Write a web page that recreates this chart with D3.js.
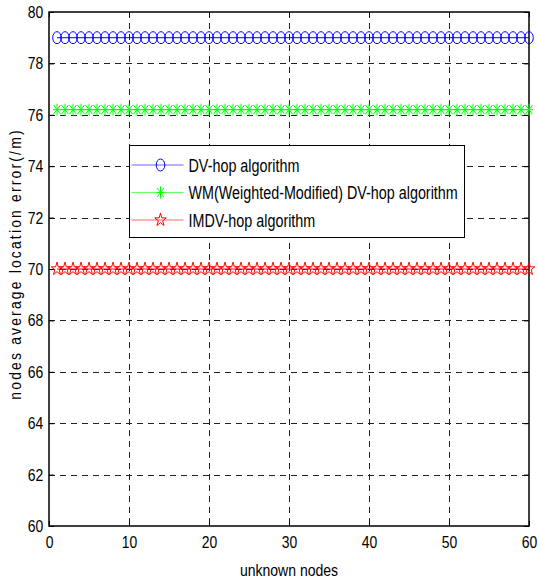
<!DOCTYPE html>
<html>
<head>
<meta charset="utf-8">
<script src="https://cdn.jsdelivr.net/npm/d3@7"></script>
<style>
body { margin: 0; background: #fff; }
svg { display: block; }
text { font-family: "Liberation Sans", Arial, Helvetica, sans-serif; fill: #000; }
</style>
</head>
<body>
<svg id="chart"></svg>
<script>
// unknown node index (x) and average error of each algorithm
var nodes = [1,2,3,4,5,6,7,8,9,10,11,12,13,14,15,16,17,18,19,20,
	21,22,23,24,25,26,27,28,29,30,31,32,33,34,35,36,37,38,39,40,
	41,42,43,44,45,46,47,48,49,50,51,52,53,54,55,56,57,58,59,60];
var dvhop = [79,79,79,79,79,79,79,79,79,79,79,79,79,79,79,79,79,79,79,79,
	79,79,79,79,79,79,79,79,79,79,79,79,79,79,79,79,79,79,79,79,
	79,79,79,79,79,79,79,79,79,79,79,79,79,79,79,79,79,79,79,79];
var wmdvhop = [76.2,76.2,76.2,76.2,76.2,76.2,76.2,76.2,76.2,76.2,76.2,76.2,76.2,76.2,76.2,76.2,76.2,76.2,76.2,76.2,
	76.2,76.2,76.2,76.2,76.2,76.2,76.2,76.2,76.2,76.2,76.2,76.2,76.2,76.2,76.2,76.2,76.2,76.2,76.2,76.2,
	76.2,76.2,76.2,76.2,76.2,76.2,76.2,76.2,76.2,76.2,76.2,76.2,76.2,76.2,76.2,76.2,76.2,76.2,76.2,76.2];
var imdvhop = [70,70,70,70,70,70,70,70,70,70,70,70,70,70,70,70,70,70,70,70,
	70,70,70,70,70,70,70,70,70,70,70,70,70,70,70,70,70,70,70,70,
	70,70,70,70,70,70,70,70,70,70,70,70,70,70,70,70,70,70,70,70];
var serieNames = ['DV-hop algorithm', 'WM(Weighted-Modified) DV-hop algorithm', 'IMDV-hop algorithm'];
var xTicks = [0,10,20,30,40,50,60];
var yTicks = [60,62,64,66,68,70,72,74,76,78,80];

var W = 538, H = 581;
var m = {left: 49, top: 12, right: 9, bottom: 55};
var w = W - m.left - m.right, h = H - m.top - m.bottom;
var sx = 0.82; // narrow look of the matlab font

var svg = d3.select('#chart').attr('width', W).attr('height', H);
var g = svg.append('g').attr('transform', 'translate(' + m.left + ',' + m.top + ')');

var x = d3.scaleLinear().domain([0, 60]).range([0, w]);
var y = d3.scaleLinear().domain([60, 80]).range([h, 0]);

// grid
g.append('g').selectAll('line')
	.data(xTicks.slice(1, -1)).enter().append('line')
	.attr('x1', function(d) { return Math.round(x(d)) + 0.5; })
	.attr('x2', function(d) { return Math.round(x(d)) + 0.5; })
	.attr('y1', 0).attr('y2', h)
	.attr('stroke', '#222').attr('stroke-dasharray', '6,5');
g.append('g').selectAll('line')
	.data(yTicks.slice(1, -1)).enter().append('line')
	.attr('y1', function(d) { return Math.round(y(d)) + 0.5; })
	.attr('y2', function(d) { return Math.round(y(d)) + 0.5; })
	.attr('x1', 0).attr('x2', w)
	.attr('stroke', '#222').attr('stroke-dasharray', '6,5');

// axes, ticks inward
function styleAxis(sel) {
	sel.select('.domain').remove();
	sel.selectAll('line').attr('stroke', '#000');
	sel.selectAll('text').style('font-size', '17px');
}
g.append('g').attr('transform', 'translate(0,' + h + ')')
	.call(d3.axisBottom(x).tickValues(xTicks).tickSize(-5).tickPadding(10))
	.call(styleAxis)
	.selectAll('text').attr('transform', 'scale(' + sx + ',1)');
g.append('g')
	.call(d3.axisLeft(y).tickValues(yTicks).tickSize(-5).tickPadding(7))
	.call(styleAxis)
	.selectAll('text').attr('transform', 'scale(' + sx + ',1)');
g.append('g')
	.call(d3.axisTop(x).tickValues(xTicks).tickSize(-5).tickFormat(''))
	.call(styleAxis);
g.append('g').attr('transform', 'translate(' + w + ',0)')
	.call(d3.axisRight(y).tickValues(yTicks).tickSize(-5).tickFormat(''))
	.call(styleAxis);

g.append('rect').attr('width', w).attr('height', h)
	.attr('fill', 'none').attr('stroke', '#000').attr('stroke-width', 1.5);

// markers
function pentagram(r) {
	var pts = [];
	for (var i = 0; i < 10; i++) {
		var rr = i % 2 === 0 ? r : r * 0.38;
		var a = -Math.PI / 2 + i * Math.PI / 5;
		pts.push([rr * Math.cos(a), rr * Math.sin(a) * 1.15]);
	}
	return 'M' + pts.map(function(p) { return p[0].toFixed(2) + ',' + p[1].toFixed(2); }).join('L') + 'Z';
}
var asterisk = 'M0,-6V6M-4,0H4M-3.5,-4.5L3.5,4.5M3.5,-4.5L-3.5,4.5';

function drawMarker(sel, k, color) {
	if (k === 0) {
		sel.append('ellipse').attr('rx', 4.3).attr('ry', 6)
			.attr('fill', 'none').attr('stroke', color);
	} else if (k === 1) {
		sel.append('path').attr('d', asterisk).attr('fill', 'none').attr('stroke', color);
	} else {
		sel.append('path').attr('d', pentagram(6)).attr('fill', 'none').attr('stroke', color);
	}
}

var series = [
	{name: serieNames[0], values: dvhop, color: '#0000ff'},
	{name: serieNames[1], values: wmdvhop, color: '#00ff00'},
	{name: serieNames[2], values: imdvhop, color: '#ff0000'}
];

var line = d3.line()
	.x(function(d, i) { return x(nodes[i]); })
	.y(function(d) { return y(d); });

series.forEach(function(s, k) {
	g.append('path').datum(s.values)
		.attr('d', line).attr('fill', 'none')
		.attr('stroke', s.color).attr('stroke-width', 1);
	g.append('g').selectAll('g')
		.data(s.values).enter().append('g')
		.attr('transform', function(d, i) { return 'translate(' + x(nodes[i]) + ',' + y(d) + ')'; })
		.each(function() { drawMarker(d3.select(this), k, s.color); });
});

// legend
var lg = svg.append('g').attr('transform', 'translate(129.5,145.5)');
lg.append('rect').attr('width', 335).attr('height', 92)
	.attr('fill', '#fff').attr('stroke', '#000');
series.forEach(function(s, k) {
	var row = lg.append('g').attr('transform', 'translate(0,' + (19.5 + k * 27.5) + ')');
	row.append('line').attr('x1', 2).attr('x2', 54)
		.attr('stroke', s.color).attr('stroke-opacity', 0.6);
	var mk = row.append('g').attr('transform', 'translate(31,0)');
	drawMarker(mk, k, s.color);
	row.append('text').attr('transform', 'translate(59,6.5) scale(' + sx + ',1)')
		.style('font-size', '17.5px').text(s.name);
});

// axis titles
svg.append('text')
	.attr('transform', 'translate(' + (m.left + w / 2) + ',576) scale(0.85,1)')
	.attr('text-anchor', 'middle').style('font-size', '16.5px')
	.text('unknown nodes');
svg.append('text')
	.attr('transform', 'translate(21,264) rotate(-90) scale(0.87,1)')
	.attr('text-anchor', 'middle').style('font-size', '16px')
	.style('letter-spacing', '2.5px')
	.text('nodes average location error(/m)');
</script>
</body>
</html>
